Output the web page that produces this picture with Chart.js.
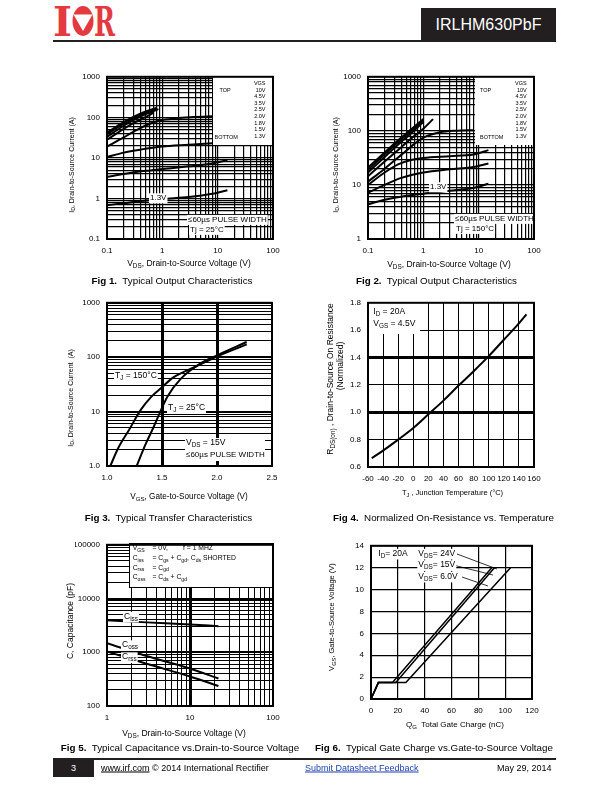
<!DOCTYPE html>
<html>
<head>
<meta charset="utf-8">
<title>IRLHM630PbF</title>
<script src="https://cdn.jsdelivr.net/npm/chart.js@4.4.1/dist/chart.umd.min.js"></script>
<style>
  html, body { margin: 0; padding: 0; background: #fff; }
  #page { position: relative; width: 612px; height: 792px; overflow: hidden;
          font-family: "Liberation Sans", Arial, sans-serif; color: #000; }
  #page canvas { position: absolute; }
  .t { position: absolute; white-space: nowrap; line-height: 1; transform: translate(-50%, -50%); }
  .r { transform: translate(-50%, -50%) rotate(-90deg); }
  .t sub, .l sub { font-size: 75%; vertical-align: -0.35em; line-height: 0; }
  .cap { font-size: 9.8px; }
  .l { position: absolute; white-space: nowrap; line-height: 1; transform: translateY(-50%); font-size: 9px; }
  .blk { position: absolute; background: #231f20; }
</style>
</head>
<body>
<div id="page">
  <svg style="position:absolute;left:53px;top:5px" width="64" height="33" viewBox="0 0 64 33">
    <text x="0" y="31" font-family="DejaVu Serif" font-weight="bold" font-size="41" fill="#e43a3f"
          textLength="19" lengthAdjust="spacingAndGlyphs">I</text>
    <ellipse cx="30" cy="16" rx="10.5" ry="15" fill="#e43a3f"/>
    <polygon points="20.5,9.5 39.5,9.5 30,26" fill="#fff"/>
    <text x="41" y="31" font-family="DejaVu Serif" font-weight="bold" font-size="41" fill="#e43a3f"
          textLength="21" lengthAdjust="spacingAndGlyphs">R</text>
  </svg>
  <div class="blk" style="left:53px;top:39.5px;width:368px;height:2px"></div>
  <div class="blk" style="left:421px;top:8px;width:135px;height:33.5px;color:#fff;font-size:16px;line-height:33.5px;text-align:center">IRLHM630PbF</div>

  <canvas id="fig1"></canvas>
  <canvas id="fig2"></canvas>
  <canvas id="fig3"></canvas>
  <canvas id="fig4"></canvas>
  <canvas id="fig5"></canvas>
  <canvas id="fig6"></canvas>

  <!-- axis titles -->
  <div class="t r" style="left:71px;top:165px;font-size:7px">I<sub>D</sub>, Drain-to-Source Current (A)</div>
  <div class="t" style="left:189px;top:263px;font-size:8.5px">V<sub>DS</sub>, Drain-to-Source Voltage (V)</div>
  <div class="t r" style="left:335px;top:165px;font-size:7px">I<sub>D</sub>, Drain-to-Source Current (A)</div>
  <div class="t" style="left:449px;top:264px;font-size:8.5px">V<sub>DS</sub>, Drain-to-Source Voltage (V)</div>
  <div class="t r" style="left:70px;top:398px;font-size:7px">I<sub>D</sub>, Drain-to-Source Current&nbsp; (A)</div>
  <div class="t" style="left:189px;top:496.5px;font-size:8.2px">V<sub>GS</sub>, Gate-to-Source Voltage (V)</div>
  <div class="t r" style="left:330px;top:379px;font-size:8.5px">R<sub>DS(on)</sub> , Drain-to-Source On Resistance</div>
  <div class="t r" style="left:340px;top:366px;font-size:8.5px">(Normalized)</div>
  <div class="t" style="left:452.5px;top:492.7px;font-size:7.5px">T<sub>J</sub> , Junction Temperature (°C)</div>
  <div class="t r" style="left:70px;top:621px;font-size:8.5px">C, Capacitance (pF)</div>
  <div class="t" style="left:184px;top:733px;font-size:8.5px">V<sub>DS</sub>, Drain-to-Source Voltage (V)</div>
  <div class="t r" style="left:332px;top:617px;font-size:7.5px">V<sub>GS</sub>, Gate-to-Source Voltage (V)</div>
  <div class="t" style="left:455px;top:724.5px;font-size:8px">Q<sub>G</sub>&nbsp; Total Gate Charge (nC)</div>

  <!-- captions -->
  <div class="t cap" style="left:172px;top:281px"><b>Fig 1.</b>&nbsp; Typical Output Characteristics</div>
  <div class="t cap" style="left:436.5px;top:281px"><b>Fig 2.</b>&nbsp; Typical Output Characteristics</div>
  <div class="t cap" style="left:168.5px;top:518px"><b>Fig 3.</b>&nbsp; Typical Transfer Characteristics</div>
  <div class="t cap" style="left:443.5px;top:518px"><b>Fig 4.</b>&nbsp; Normalized On-Resistance vs. Temperature</div>
  <div class="t cap" style="left:180px;top:748px"><b>Fig 5.</b>&nbsp; Typical Capacitance vs.Drain-to-Source Voltage</div>
  <div class="t cap" style="left:434px;top:748px"><b>Fig 6.</b>&nbsp; Typical Gate Charge vs.Gate-to-Source Voltage</div>

  <!-- footer -->
  <div class="blk" style="left:53px;top:758px;width:503px;height:2px"></div>
  <div class="blk" style="left:53px;top:758px;width:41px;height:19px;color:#fff;font-size:9px;line-height:20px;text-align:center">3</div>
  <div class="l" style="left:101px;top:768px"><u>www.irf.com</u> © 2014 International Rectifier</div>
  <div class="l" style="left:305px;top:768px;color:#1f3fb0"><u>Submit Datasheet Feedback</u></div>
  <div class="l" style="left:497px;top:768px">May 29, 2014</div>
</div>

<script>
// ---------- data ----------
// Fig 1: output characteristics, Tj = 25C
const fig1XLabels = ['0.1', '1', '10', '100'];
const fig1YLabels = ['0.1', '1', '10', '100', '1000'];
const fig1Vgs = ['10V', '4.5V', '3.5V', '2.5V', '2.0V', '1.8V', '1.5V', '1.3V'];
const fig1Id10 = [[0.1, 42], [0.2, 76], [0.3, 102], [0.5, 140], [0.8, 172]];
const fig1Id45 = [[0.1, 38], [0.2, 70], [0.3, 95], [0.5, 132], [0.8, 165]];
const fig1Id35 = [[0.1, 33], [0.2, 62], [0.3, 85], [0.5, 120], [0.85, 160]];
const fig1Id25 = [[0.1, 28], [0.2, 52], [0.3, 72], [0.5, 102], [0.7, 130]];
const fig1Id20 = [[0.1, 19], [0.2, 32], [0.3, 44], [0.5, 63], [0.8, 80], [1, 86], [2, 96], [4, 102], [8, 106]];
const fig1Id18 = [[0.1, 10.5], [0.2, 13.5], [0.4, 16], [1, 19], [3, 21], [8, 23], [15, 24]];
const fig1Id15 = [[0.1, 3.4], [0.2, 4.0], [0.5, 4.8], [1, 5.3], [3, 6.2], [8, 7.3], [15, 8.8]];
const fig1Id13 = [[0.1, 0.68], [0.3, 0.82], [1, 0.97], [3, 1.08], [8, 1.3], [15, 1.6]];

// Fig 2: output characteristics, Tj = 150C
const fig2XLabels = ['0.1', '1', '10', '100'];
const fig2YLabels = ['1', '10', '100', '1000'];
const fig2Vgs = fig1Vgs;
const fig2Id10 = [[0.1, 21], [0.2, 40], [0.4, 75], [0.7, 122], [1, 165]];
const fig2Id45 = [[0.1, 19], [0.2, 37], [0.4, 70], [0.7, 114], [1, 158]];
const fig2Id35 = [[0.1, 17], [0.2, 33], [0.4, 63], [0.7, 104], [1, 148]];
const fig2Id25 = [[0.1, 14.5], [0.2, 27], [0.4, 50], [0.7, 82], [1, 110], [1.5, 165]];
const fig2Id20 = [[0.1, 11.5], [0.2, 20], [0.4, 36], [0.7, 58], [1, 75], [2, 94], [4, 101], [8, 103]];
const fig2Id18 = [[0.1, 10], [0.2, 17], [0.35, 24], [0.6, 29], [1, 31.5], [3, 34], [8, 36.5], [15, 44]];
const fig2Id15 = [[0.1, 7.2], [0.2, 10], [0.4, 13.5], [1, 17], [3, 19.5], [8, 21.5], [15, 25]];
const fig2Id13 = [[0.1, 4.4], [0.2, 5.3], [0.5, 6.3], [1, 6.9], [3, 7.8], [8, 8.8], [15, 10.5]];

// Fig 3: transfer characteristics
const fig3XLabels = ['1.0', '1.5', '2.0', '2.5'];
const fig3YLabels = ['1.0', '10', '100', '1000'];
const fig3Tj150 = [[1.03, 1], [1.1, 2.1], [1.2, 4.6], [1.31, 11], [1.4, 18.5], [1.5, 28], [1.6, 42], [1.8, 66], [2.0, 103], [2.27, 172]];
const fig3Tj25 = [[1.27, 1], [1.35, 2.5], [1.42, 5], [1.48, 9.5], [1.55, 19], [1.67, 40], [1.85, 77], [2.0, 108], [2.27, 190]];

// Fig 4: normalized on-resistance
const fig4XLabels = ['-60', '-40', '-20', '0', '20', '40', '60', '80', '100', '120', '140', '160'];
const fig4YLabels = ['0.6', '0.8', '1.0', '1.2', '1.4', '1.6', '1.8'];
const fig4Rds = [[-55, 0.665], [-40, 0.72], [-20, 0.80], [0, 0.885], [20, 0.985], [40, 1.085], [60, 1.195],
                 [80, 1.30], [100, 1.41], [120, 1.53], [140, 1.65], [150, 1.715]];

// Fig 5: capacitance
const fig5XLabels = ['1', '10', '100'];
const fig5YLabels = ['100', '1000', '10000', '100000'];
const fig5Ciss = [[1, 3950], [3, 3600], [10, 3300], [22, 3050]];
const fig5Coss = [[1, 1480], [3, 850], [10, 500], [22, 325]];
const fig5Crss = [[1, 1040], [3, 610], [10, 355], [22, 235]];

// Fig 6: gate charge
const fig6XLabels = ['0', '20', '40', '60', '80', '100', '120'];
const fig6YLabels = ['0', '2', '4', '6', '8', '10', '12', '14'];
const fig6Vds6 = [[0, 0], [5.5, 1.5], [16, 1.5], [90, 12]];
const fig6Vds15 = [[0, 0], [5.5, 1.5], [18.5, 1.5], [92, 12]];
const fig6Vds24 = [[0, 0], [5.5, 1.5], [26, 1.5], [104, 12]];

// ---------- drawing ----------
const FONT = '"Liberation Sans", Arial, sans-serif';
const PAD = {l: 70, r: 14, t: 10, b: 40};
const YW = 32, XH = 16;

const same = (a, b) => Math.abs(a - b) <= 1e-6 * Math.max(1, Math.abs(b));
const isDecade = v => same(Math.log10(v), Math.round(Math.log10(v)));
const nums = labels => labels.map(parseFloat);

// every 1..9 x 10^k grid value between min and max
function decades(min, max) {
    const out = [];
    for (let e = Math.floor(Math.log10(min) + 1e-9); Math.pow(10, e) <= max * 1.0001; e++) {
        for (let k = 1; k <= 9; k++) {
            const v = +(k * Math.pow(10, e)).toPrecision(6);
            if (v >= min * 0.9999 && v <= max * 1.0001) out.push(v);
        }
    }
    return out;
}

function axis(pos, type, labels, grid, lw) {
    const vals = nums(labels);
    return {
        type: type, position: pos,
        min: Math.min(...vals), max: Math.max(...vals),
        afterBuildTicks: s => { s.ticks = grid.map(v => ({value: v})); },
        afterFit: s => { if (pos === 'left') s.width = YW; else s.height = XH; },
        ticks: {
            autoSkip: false, maxRotation: 0, minRotation: 0, padding: 7, color: '#000',
            font: {family: FONT, size: 8},
            callback: v => labels.find(t => same(parseFloat(t), v)) || ''
        },
        grid: {color: '#000', drawTicks: false, lineWidth: c => lw(c.tick ? c.tick.value : NaN)},
        border: {display: false}
    };
}

function curve(pts, width, straight) {
    return {
        data: pts.map(p => ({x: p[0], y: p[1]})),
        borderColor: '#000', borderWidth: width || 2, pointRadius: 0, fill: false,
        tension: 0, cubicInterpolationMode: straight ? 'default' : 'monotone'
    };
}

// text with '_' prefixed parts drawn as subscripts
function rich(c, parts, x, y, size, align, bg) {
    const segs = parts.map(p => p[0] === '_'
        ? {t: p.slice(1), s: size * 0.75, dy: size * 0.32}
        : {t: p, s: size, dy: 0});
    let w = 0;
    segs.forEach(g => { c.font = g.s + 'px ' + FONT; g.w = c.measureText(g.t).width; w += g.w; });
    let x0 = align === 'right' ? x - w : x;
    if (bg) {
        c.fillStyle = '#fff';
        c.fillRect(x0 - 1, y - size * 0.55, w + 2, size * 1.25);
    }
    c.fillStyle = '#000';
    c.textBaseline = 'middle';
    c.textAlign = 'left';
    segs.forEach(g => { c.font = g.s + 'px ' + FONT; c.fillText(g.t, x0, y + g.dy); x0 += g.w; });
}

function makeChart(id, area, xAxis, yAxis, datasets, decor) {
    const cv = document.getElementById(id);
    const w = area.w + PAD.l + PAD.r, h = area.h + PAD.t + PAD.b;
    const ox = area.l - PAD.l, oy = area.t - PAD.t;
    cv.style.left = ox + 'px';
    cv.style.top = oy + 'px';
    cv.style.width = w + 'px';
    cv.style.height = h + 'px';
    cv.width = w;
    cv.height = h;

    return new Chart(cv, {
        type: 'line',
        data: {datasets: datasets},
        options: {
            responsive: false, animation: false, events: [],
            layout: {padding: {left: PAD.l - YW, right: PAD.r, top: PAD.t, bottom: PAD.b - XH}},
            plugins: {legend: {display: false}, tooltip: {enabled: false}},
            scales: {x: xAxis, y: yAxis}
        },
        plugins: [{
            id: 'decor',
            afterDatasetsDraw(chart) {
                const c = chart.ctx, a = chart.chartArea;
                c.save();
                (decor.boxes || []).forEach(b => {
                    c.fillStyle = '#fff';
                    c.fillRect(b[0] - ox, b[1] - oy, b[2] - b[0], b[3] - b[1]);
                    if (b[4]) {
                        c.strokeStyle = '#000';
                        c.lineWidth = 1;
                        c.strokeRect(b[0] - ox + 0.5, b[1] - oy + 0.5, b[2] - b[0], b[3] - b[1]);
                    }
                });
                (decor.lines || []).forEach(l => {
                    c.beginPath();
                    c.moveTo(l[0] - ox, l[1] - oy);
                    c.lineTo(l[2] - ox, l[3] - oy);
                    c.strokeStyle = '#000';
                    c.lineWidth = 0.8;
                    c.stroke();
                });
                (decor.texts || []).forEach(t => rich(c, t.p, t.x - ox, t.y - oy, t.size || 8, t.align, t.bg));
                c.strokeStyle = '#000';
                c.lineWidth = 2;
                c.strokeRect(a.left, a.top, a.right - a.left, a.bottom - a.top);
                c.restore();
            }
        }]
    });
}

// legend block of figs 1 and 2
function vgsLegend(vgs, valX, topX, botX) {
    const out = [{p: ['VGS'], x: valX, y: 83.3, size: 5.5, align: 'right'},
                 {p: ['TOP'], x: topX, y: 90, size: 5.5},
                 {p: ['BOTTOM'], x: botX, y: 137.3, size: 5.5}];
    vgs.forEach((v, i) => out.push({p: [v], x: valX, y: 90 + i * 6.65, size: 5.5, align: 'right'}));
    return out;
}

document.addEventListener('DOMContentLoaded', function() {
    const thin = () => 1.2;

    makeChart('fig1', {l: 107, t: 75, w: 166, h: 164},
        axis('bottom', 'logarithmic', fig1XLabels, decades(0.1, 100), thin),
        axis('left', 'logarithmic', fig1YLabels, decades(0.1, 1000), thin),
        [fig1Id10, fig1Id45, fig1Id35, fig1Id25, fig1Id20, fig1Id18, fig1Id15, fig1Id13].map(d => curve(d)),
        {
            boxes: [[213, 75, 273, 145]],
            texts: vgsLegend(fig1Vgs, 265.5, 219.5, 214.5).concat([
                {p: ['1.3V'], x: 150, y: 197.7, bg: true},
                {p: ['≤60µs PULSE WIDTH'], x: 188, y: 219.3, bg: true},
                {p: ['Tj = 25°C'], x: 190, y: 229.3, bg: true}
            ])
        });

    makeChart('fig2', {l: 368, t: 75, w: 166, h: 164},
        axis('bottom', 'logarithmic', fig2XLabels, decades(0.1, 100), thin),
        axis('left', 'logarithmic', fig2YLabels, decades(1, 1000), thin),
        [fig2Id10, fig2Id45, fig2Id35, fig2Id25, fig2Id20, fig2Id18, fig2Id15, fig2Id13].map(d => curve(d)),
        {
            boxes: [[475, 75, 534, 145]],
            texts: vgsLegend(fig2Vgs, 526.7, 480, 480).concat([
                {p: ['1.3V'], x: 430, y: 186.7, bg: true},
                {p: ['≤60µs PULSE WIDTH'], x: 455, y: 218.3, bg: true},
                {p: ['Tj = 150°C'], x: 456, y: 228.3, bg: true}
            ])
        });

    makeChart('fig3', {l: 107, t: 301, w: 165, h: 165},
        axis('bottom', 'linear', fig3XLabels, nums(fig3XLabels), v => (same(v, 1.5) || same(v, 2)) ? 3 : 1),
        axis('left', 'logarithmic', fig3YLabels, decades(1, 1000), v => isDecade(v) ? 2 : 1),
        [curve(fig3Tj150), curve(fig3Tj25)],
        {
            boxes: [[185, 438, 265, 461]],
            texts: [
                {p: ['T', '_J', ' = 150°C'], x: 115, y: 375.7, size: 8.5, bg: true},
                {p: ['T', '_J', ' = 25°C'], x: 168, y: 407.3, size: 8.5, bg: true},
                {p: ['V', '_DS', ' = 15V'], x: 186, y: 443, size: 8.5},
                {p: ['≤60µs PULSE WIDTH'], x: 186, y: 455}
            ]
        });

    makeChart('fig4', {l: 368, t: 301, w: 166, h: 166},
        axis('bottom', 'linear', fig4XLabels, nums(fig4XLabels), () => 1),
        axis('left', 'linear', fig4YLabels, nums(fig4YLabels), v => (same(v, 1.0) || same(v, 1.4)) ? 3 : 1),
        [curve(fig4Rds)],
        {
            boxes: [[368, 301, 420, 334]],
            texts: [
                {p: ['I', '_D', ' = 20A'], x: 373.3, y: 311.7, size: 8.5},
                {p: ['V', '_GS', ' = 4.5V'], x: 373.3, y: 323.3, size: 8.5}
            ]
        });

    makeChart('fig5', {l: 107, t: 543, w: 166, h: 163},
        axis('bottom', 'logarithmic', fig5XLabels, decades(1, 100), v => same(v, 10) ? 3 : 1),
        axis('left', 'logarithmic', fig5YLabels, decades(100, 100000), v => isDecade(v) ? 2 : 1),
        [curve(fig5Ciss), curve(fig5Coss), curve(fig5Crss)],
        {
            boxes: [[129, 543, 273, 587, true]],
            texts: [
                {p: ['V', '_GS'], x: 132.7, y: 548.5, size: 6.8},
                {p: ['= 0V,'], x: 152.5, y: 548.5, size: 6.8},
                {p: ['f = 1 MHZ'], x: 183, y: 548.5, size: 6.8},
                {p: ['C', '_iss'], x: 132.7, y: 558, size: 6.8},
                {p: ['= C', '_gs', ' + C', '_gd', ', C', '_ds', ' SHORTED'], x: 152.5, y: 558, size: 6.8},
                {p: ['C', '_rss'], x: 132.7, y: 567.7, size: 6.8},
                {p: ['= C', '_gd'], x: 152.5, y: 567.7, size: 6.8},
                {p: ['C', '_oss'], x: 132.7, y: 577.4, size: 6.8},
                {p: ['= C', '_ds', ' + C', '_gd'], x: 152.5, y: 577.4, size: 6.8},
                {p: ['C', '_iss'], x: 124, y: 616.5, size: 8.5, bg: true},
                {p: ['C', '_oss'], x: 122, y: 645, size: 8.5, bg: true},
                {p: ['C', '_rss'], x: 122, y: 657, size: 8.5, bg: true}
            ]
        });

    makeChart('fig6', {l: 371, t: 544, w: 161, h: 155},
        axis('bottom', 'linear', fig6XLabels, nums(fig6XLabels), () => 1.2),
        axis('left', 'linear', fig6YLabels, nums(fig6YLabels), () => 1.2),
        [curve(fig6Vds6, 1.5, true), curve(fig6Vds15, 1.5, true), curve(fig6Vds24, 1.5, true)],
        {
            lines: [[457, 554, 497, 569], [455, 565.5, 493, 575], [462, 577, 488, 586]],
            texts: [
                {p: ['I', '_D', '= 20A'], x: 378.3, y: 553.5, size: 8.5, bg: true},
                {p: ['V', '_DS', '= 24V'], x: 418.3, y: 553.5, size: 8.5, bg: true},
                {p: ['V', '_DS', '= 15V'], x: 418.3, y: 565, size: 8.5, bg: true},
                {p: ['V', '_DS', '= 6.0V'], x: 418.3, y: 576.5, size: 8.5, bg: true}
            ]
        });
});
</script>
</body>
</html>
